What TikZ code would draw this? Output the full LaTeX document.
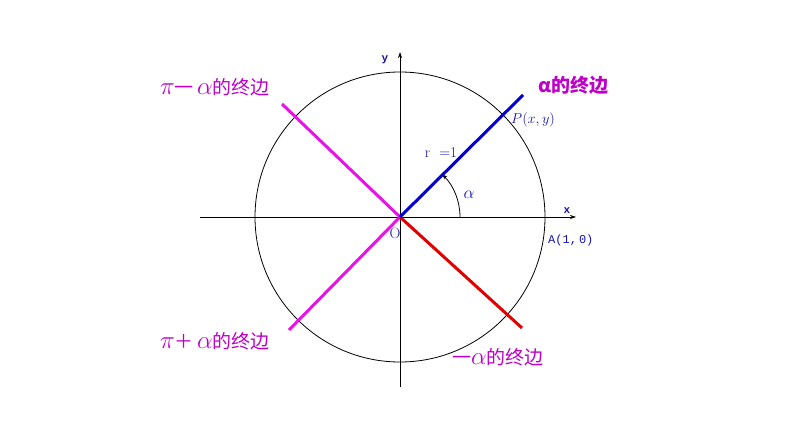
\documentclass[tikz,border=0pt]{standalone}
\usepackage{fontspec}
\newfontfamily\cjk{Noto Sans CJK SC}
\newfontfamily\monof{Liberation Mono}
\usetikzlibrary{arrows.meta}
\definecolor{mag}{RGB}{230,20,230}
\definecolor{lab}{RGB}{190,0,200}
\definecolor{bl}{RGB}{0,0,210}
\definecolor{rd}{RGB}{225,0,0}
\definecolor{tb}{RGB}{20,20,170}
\newcommand{\mybigmath}[1]{{\fontsize{25}{26}\selectfont$#1$}}
\tikzset{
  axis/.style={line width=0.8pt,-{Stealth[length=6pt,width=4pt]}},
  ray/.style={line width=3pt},
  lbl/.style={text=lab,font=\fontsize{19}{22}\selectfont,inner sep=0pt},
  sm/.style={text=tb,font=\fontsize{15}{17}\selectfont,inner sep=0pt}
}
\begin{document}
\begin{tikzpicture}[x=1pt,y=-1pt]
\useasboundingbox[fill=white] (0,0) rectangle (794,446);
\coordinate (O) at (400,217);
\coordinate (xl) at (200,217);
\coordinate (xr) at (576,217);
\coordinate (yb) at (400,387);
\coordinate (yt) at (400,52);
\draw[line width=0.8pt] (O) circle[radius=145];
\draw[axis] (xl) -- (xr);
\draw[axis] (yb) -- (yt);
\coordinate (T1) at (523,95);
\coordinate (T2) at (282,104);
\coordinate (T3) at (289,330);
\coordinate (T4) at (522,328);
\draw[ray,mag] (O) -- (T2);
\draw[ray,mag] (O) -- (T3);
\draw[ray,rd] (O) -- (T4);
\draw[ray,bl] (O) -- (T1);
\draw[line width=0.8pt,-{Stealth[length=5pt,width=4pt]}] (460,217) arc[start angle=0,end angle=-45,radius=60];
\node[lbl,anchor=west] (L2) at (160,87) {\mybigmath{\pi}{\cjk 一}\,\mybigmath{\alpha}{\cjk 的终边}};
\node[lbl,anchor=west,font=\fontsize{19}{22}\selectfont\cjk\bfseries] (L1) at (538,85) {α的终边};
\node[lbl,anchor=west] (L3) at (160,341) {\mybigmath{\pi}{\cjk ＋}\,\mybigmath{\alpha}{\cjk 的终边}};
\node[lbl,anchor=west] (L4) at (452,357) {{\cjk 一}\mybigmath{\alpha}{\cjk 的终边}};
\node[sm,anchor=west] (P) at (511,120) {$P(x,y)$};
\node[sm,anchor=center] (r) at (441,153) {r\ \ =1};
\node[sm,anchor=center,font=\fontsize{18}{20}\selectfont] (al) at (469,195) {$\alpha$};
\node[sm,anchor=center,font=\monof\bfseries\fontsize{11}{13}\selectfont] (xlab) at (567,211) {x};
\node[sm,anchor=center,font=\monof\bfseries\fontsize{11}{13}\selectfont] (ylab) at (385,60) {y};
\node[sm,anchor=center] (Olab) at (395,233) {O};
\node[sm,anchor=west,font=\monof\fontsize{12}{14}\selectfont] (A) at (548,240) {A(1,\,0)};
\end{tikzpicture}
\end{document}
